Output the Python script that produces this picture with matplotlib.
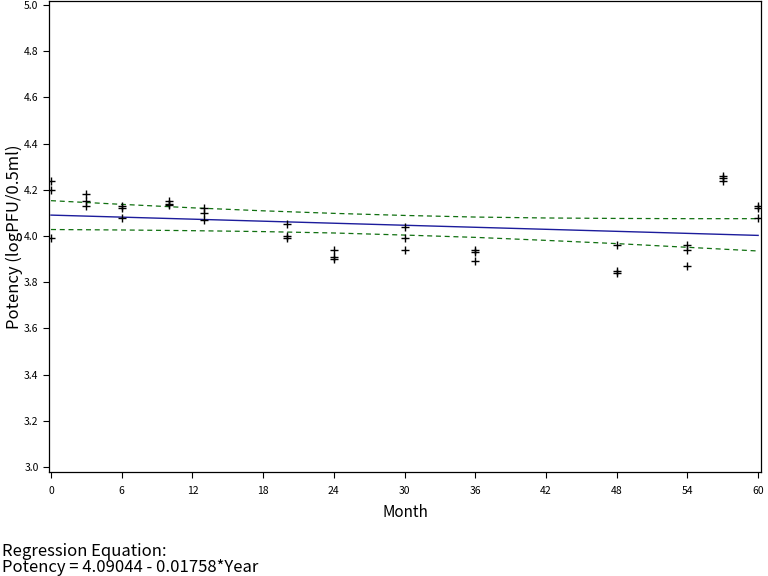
import numpy as np
import matplotlib
matplotlib.use('Agg')
import matplotlib.pyplot as plt

plt.rcParams['font.family'] = ['Noto Sans CJK KR', 'DejaVu Sans']

# observed potency per month
months = [0, 0, 0, 3, 3, 3, 6, 6, 6, 10, 10, 10, 13, 13, 13,
          20, 20, 20, 24, 24, 24, 30, 30, 30, 36, 36, 36,
          48, 48, 48, 54, 54, 54, 57, 57, 57, 60, 60, 60]
potency = [4.24, 4.20, 3.99, 4.18, 4.15, 4.13, 4.13, 4.12, 4.08,
           4.15, 4.14, 4.135, 4.12, 4.10, 4.07,
           4.05, 4.00, 3.99, 3.94, 3.91, 3.90, 4.04, 3.99, 3.94,
           3.94, 3.93, 3.89, 3.96, 3.85, 3.84, 3.96, 3.94, 3.87,
           4.26, 4.25, 4.24, 4.13, 4.12, 4.08]

# regression (from equation shown under the chart)
intercept = 4.09044
slope_per_year = -0.01758

# confidence band
band_months = [0, 6, 12, 18, 24, 30, 36, 42, 48, 54, 60]
band_upper = [4.153, 4.137, 4.122, 4.109, 4.098, 4.089, 4.082, 4.078, 4.076, 4.075, 4.075]
band_lower = [4.028, 4.026, 4.023, 4.019, 4.013, 4.004, 3.994, 3.981, 3.967, 3.951, 3.935]

fig = plt.figure(figsize=(7.68, 5.76), dpi=100)
ax = fig.add_axes([0.0638, 0.1806, 0.9272, 0.8174])

fit_x = np.array([0, 60])
fit_y = intercept + slope_per_year * fit_x / 12
ax.plot(fit_x, fit_y, color='#1c1c9c', lw=1.0)
ax.plot(band_months, band_upper, color='#107010', lw=0.9, ls=(0, (4, 3)))
ax.plot(band_months, band_lower, color='#107010', lw=0.9, ls=(0, (4, 3)))
ax.plot(months, potency, ls='none', marker='+', color='black', ms=6, mew=1.0)

ax.set_xlim(-0.17, 60.25)
ax.set_ylim(2.978, 5.017)
ax.set_xticks(range(0, 61, 6))
ax.set_yticks(np.arange(3.0, 5.01, 0.2))
ax.set_yticklabels(['%.1f' % v for v in np.arange(3.0, 5.01, 0.2)])
ax.tick_params(labelsize=7.5, length=4, width=0.8, direction='out')
ax.tick_params(axis='x', pad=6)
for s in ax.spines.values():
    s.set_linewidth(0.9)

ax.set_xlabel('Month', fontsize=11, labelpad=6)
ax.set_ylabel('Potency (logPFU/0.5ml)', fontsize=12)
ax.yaxis.set_label_coords(-0.037, 0.5)

fig.text(0.003, 0.0434, 'Regression Equation:', fontsize=12, va='center')
fig.text(0.003, 0.0139, 'Potency = 4.09044 - 0.01758*Year', fontsize=12, va='center')

fig.savefig('out.png', dpi=100)
